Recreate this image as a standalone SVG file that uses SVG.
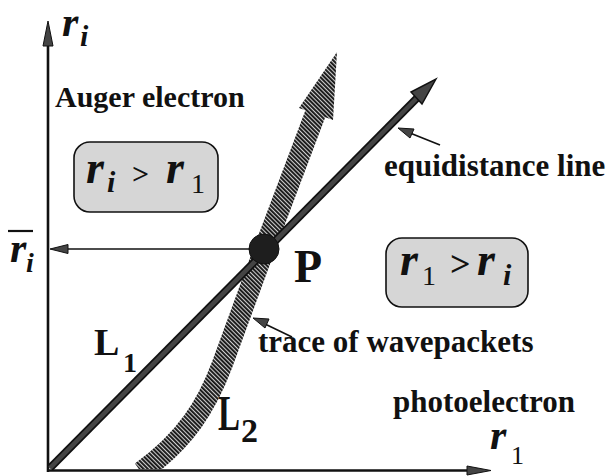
<svg xmlns="http://www.w3.org/2000/svg" width="612" height="476" viewBox="0 0 612 476">
<defs>
<style>
.t{font-family:"Liberation Serif","Times New Roman",serif;font-weight:bold;fill:#111}
.v{font-family:"Liberation Serif","Times New Roman",serif;font-weight:bold;font-style:italic;fill:#111}
.n{font-family:"Liberation Serif","Times New Roman",serif;font-weight:normal;fill:#111}
.box{fill:#d6d6d6;stroke:#111;stroke-width:1.6}
.thin{stroke:#111;stroke-width:1.6;fill:none}
.head{fill:#444;stroke:#111;stroke-width:1}
</style>
<pattern id="hatch" patternUnits="userSpaceOnUse" width="3" height="3" patternTransform="rotate(-45)">
<rect width="3" height="3" fill="#cfcfcf"/>
<rect width="1.9" height="3" fill="#151515"/>
</pattern>
<clipPath id="above"><rect x="0" y="0" width="612" height="469"/></clipPath>
</defs>

<g id="axes">
<line x1="48" y1="472" x2="48" y2="44" stroke="#111" stroke-width="2.6"/>
<polygon class="head" points="48,21 53,46 43,46"/>
<line x1="47" y1="470.5" x2="468" y2="470.5" stroke="#111" stroke-width="2.4"/>
<polygon class="head" points="491,470.5 467,466 467,475"/>
<text class="v" x="62" y="36" font-size="42">r</text>
<text class="v" x="80" y="46" font-size="30">i</text>
<text class="v" x="490" y="449" font-size="42">r</text>
<text class="n" x="511" y="464" font-size="26">1</text>
</g>

<g id="trace">
<path d="M316,112 L264,250 L222,365 C207,405 186,440 141,472" fill="none" stroke="url(#hatch)" stroke-width="21" clip-path="url(#above)"/>
<polygon points="337,52 333,120 299,108" fill="url(#hatch)"/>
</g>

<g id="equidistance-line">
<line x1="50" y1="468" x2="420" y2="95" stroke="#111" stroke-width="8"/>
<line x1="50" y1="468" x2="420" y2="95" stroke="#444" stroke-width="4.5"/>
<polygon points="436,79 422,104 411,92" fill="#444" stroke="#111" stroke-width="1.5"/>
</g>

<g id="P">
<circle cx="264" cy="249" r="15" fill="#1e1e1e" stroke="#111" stroke-width="1"/>
<text class="t" x="294" y="282" font-size="46">P</text>
</g>

<g id="connectors">
<line class="thin" x1="250" y1="249" x2="66" y2="249"/>
<polygon class="head" points="50,249 68,244.5 68,253.5"/>
<line class="thin" x1="440" y1="145" x2="410" y2="133"/>
<polygon class="head" points="398,128 414,129 410,138"/>
<line class="thin" x1="292" y1="337" x2="265" y2="324"/>
<polygon class="head" points="253,318 269,319 265,328"/>
</g>

<g id="ri-bar">
<line x1="8" y1="231" x2="33" y2="231" stroke="#111" stroke-width="2.2"/>
<text class="v" x="10" y="262" font-size="42">r</text>
<text class="v" x="26" y="272" font-size="28">i</text>
</g>

<g id="box-left">
<rect class="box" x="74" y="142" width="144" height="70" rx="16"/>
<text class="v" x="86" y="183" font-size="46">r</text>
<text class="v" x="107" y="192" font-size="30">i</text>
<text class="t" x="132" y="184" font-size="30">&gt;</text>
<text class="v" x="166" y="183" font-size="46">r</text>
<text class="n" x="191" y="193" font-size="28">1</text>
</g>

<g id="box-right">
<rect class="box" x="386" y="238" width="142" height="69" rx="16"/>
<text class="v" x="400" y="275" font-size="46">r</text>
<text class="n" x="422" y="285" font-size="28">1</text>
<text class="t" x="450" y="276" font-size="36">&gt;</text>
<text class="v" x="477" y="275" font-size="46">r</text>
<text class="v" x="503" y="285" font-size="30">i</text>
</g>

<g id="labels">
<text class="t" x="55" y="107" font-size="30">Auger electron</text>
<text class="t" x="384" y="176" font-size="31">equidistance line</text>
<text class="t" x="258" y="352" font-size="31">trace of wavepackets</text>
<text class="t" x="393" y="412" font-size="31">photoelectron</text>
<text class="t" x="94" y="355" font-size="38">L</text>
<text class="t" x="123" y="372" font-size="28">1</text>
<text class="t" x="218" y="430" font-size="50" textLength="22" lengthAdjust="spacingAndGlyphs">L</text>
<text class="t" x="241" y="442" font-size="34">2</text>
</g>
</svg>
